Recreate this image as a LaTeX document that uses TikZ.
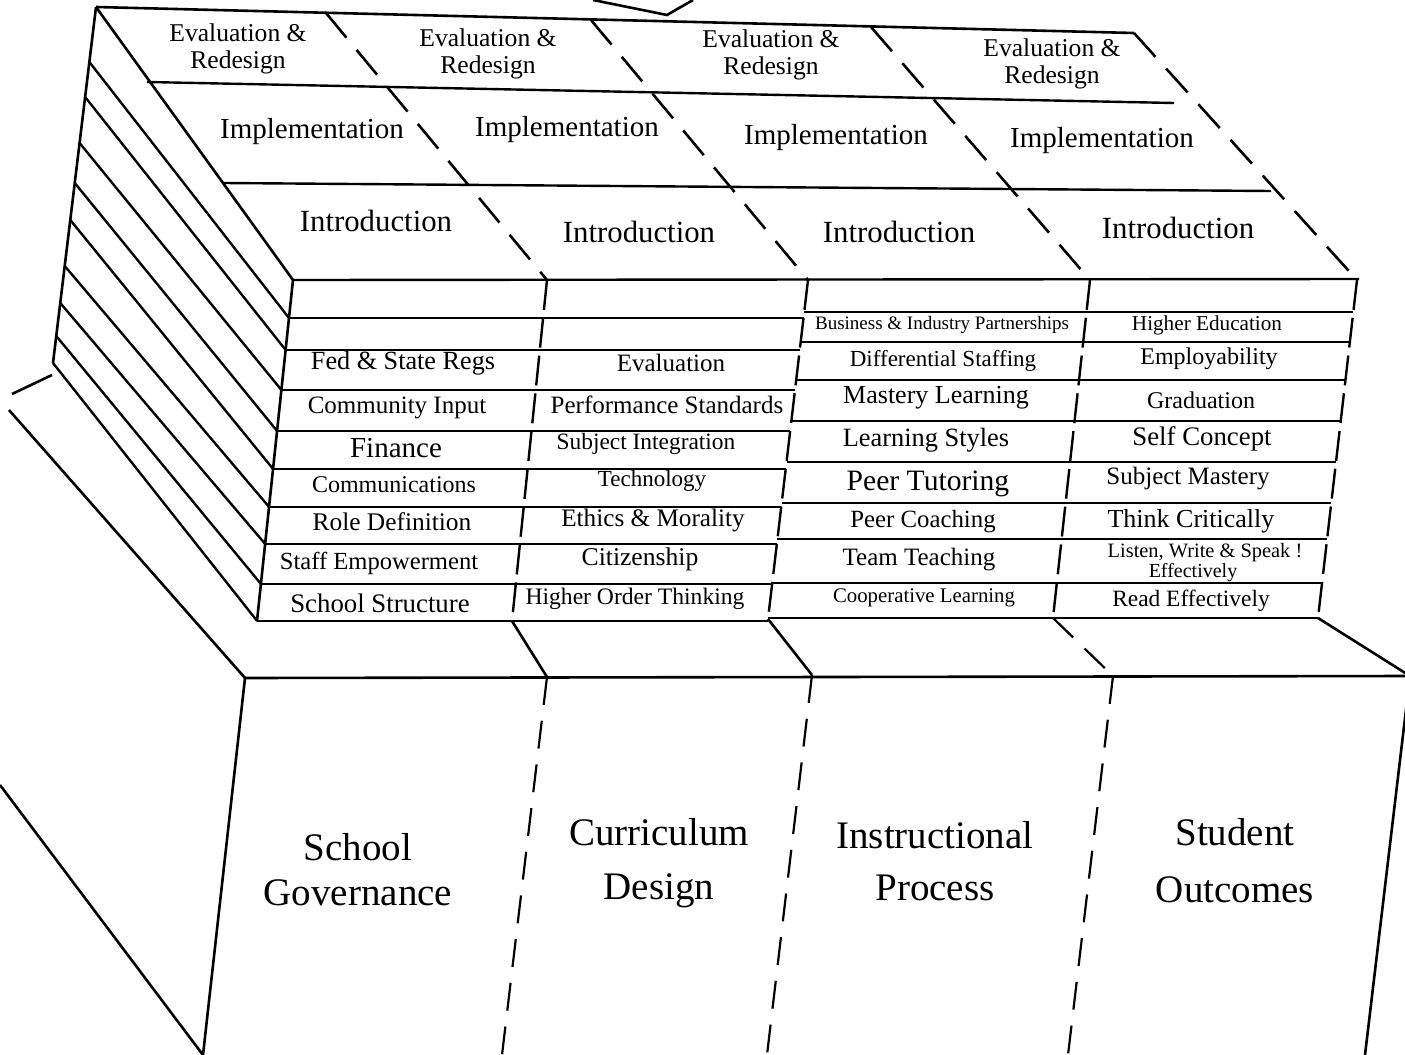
\documentclass[tikz,border=0pt]{standalone}
\usepackage{fontspec}
\setmainfont{Liberation Serif}
\tikzset{
  edge/.style={line width=1.3pt},
  row/.style={line width=1.2pt},
  slabdash/.style={line width=1.3pt, dash pattern=on 16pt off 8pt},
  colsep/.style={line width=1.2pt, dash pattern=on 15pt off 4pt},
  facedash/.style={line width=1.1pt, dash pattern=on 14pt off 8pt},
  cell/.style={inner sep=0pt, font=\fontsize{#1}{#1}\selectfont},
  cell/.default=12.5,
  head/.style={inner sep=0pt, align=center, font=\fontsize{12.8}{13.5}\selectfont},
  face/.style={inner sep=0pt, align=center, font=\fontsize{19.5}{#1}\selectfont}
}
\begin{document}
\begin{tikzpicture}[x=0.5pt, y=-0.5pt]
  \useasboundingbox (0,0) rectangle (1405,1055);
  \clip (0,0) rectangle (1405,1055);

  \coordinate (tl) at (96,7);
  \coordinate (tr) at (1134,33);
  \coordinate (wl) at (53,363);
  \coordinate (lt) at (293,280);
  \coordinate (lb) at (257,621);
  \coordinate (rt) at (1357,280);
  \coordinate (rb) at (1318,618);
  \coordinate (s1t) at (547,280);
  \coordinate (s1b) at (512,621);
  \coordinate (s2t) at (808,280);
  \coordinate (s2b) at (768,619);
  \coordinate (s3t) at (1090,280);
  \coordinate (s3b) at (1053,618);
  \coordinate (f0) at (245,678);
  \coordinate (f1) at (547,677);
  \coordinate (f2) at (812,675);
  \coordinate (f3) at (1113,676);
  \coordinate (f4) at (1410,676);

  \draw[edge] (593,0) -- (667,15) -- (693,0);

  \draw[edge] (tl) -- (tr);
  \draw[edge] (tl) -- (lt);
  \draw[edge] (tl) -- (wl);
  \draw[row] (147,82) -- (1174,103);
  \draw[row] (224,183) -- (1271,191);
  \draw[row] (lt) -- (1359,279);
  \draw[slabdash] (326,13) -- (s1t);
  \draw[slabdash] (591,20) -- (s2t);
  \draw[slabdash] (871,27) -- (s3t);
  \draw[slabdash] (tr) -- (rt);

  \draw[edge] (lt) -- (lb);
  \draw[colsep] (s1t) -- (s1b);
  \draw[colsep] (s2t) -- (s2b);
  \draw[colsep] (s3t) -- (s3b);
  \draw[colsep] (rt) -- (rb);

  \foreach \y in {318,350,390,431,469,507,544,584,621}
    \draw[row] ({293-36*(\y-280)/342},\y) -- ({808-40*(\y-280)/339},\y);
  \foreach \y in {312,342,380,421,462,503,539,583,618}
    \draw[row] ({808-40*(\y-280)/339},\y) -- ({1357-39*(\y-280)/338},\y);

  \foreach \ys/\y in {62/318,97/350,143/390,183/431,220/469,266/507,303/544,336/584,363/621}
    \draw[row] ({96-43*(\ys-7)/356},\ys) -- ({293-36*(\y-280)/342},\y);

  \draw[edge] (12,394) -- (52,375);
  \draw[edge] (9,410) -- (f0);
  \draw[edge] (0,785) -- (203,1055);
  \draw[edge] (f0) -- (203,1055);
  \draw[edge] (f0) -- (f4);
  \draw[edge] (s1b) -- (f1);
  \draw[edge] (s2b) -- (f2);
  \draw[facedash] (s3b) -- (f3);
  \draw[edge] (rb) -- (f4);
  \draw[facedash] (f1) -- (502,1055);
  \draw[facedash] (f2) -- (767,1055);
  \draw[facedash] (f3) -- (1068,1055);
  \draw[edge] (f4) -- (1365,1055);

  \foreach \x/\y [count=\i] in {238/49,488/54,771/55,1052/64}
    \node[head] (eval\i) at (\x,\y) {Evaluation \&\\Redesign};
  \foreach \x/\y [count=\i] in {312/132,567/130,836/138,1102/141}
    \node[cell=14.5] (impl\i) at (\x,\y) {Implementation};
  \foreach \x/\y [count=\i] in {376/221,639/232,899/232,1178/228}
    \node[cell=15.4] (intro\i) at (\x,\y) {Introduction};

  \foreach \x/\y/\s/\t [count=\i] in {
      403/363/13.1/Fed \& State Regs, 397/408/12.5/Community Input,
      396/448/14.5/Finance, 394/485/12/Communications,
      392/522/12.7/Role Definition, 379/563/12.3/Staff Empowerment,
      380/603/13.4/School Structure}
    \node[cell=\s] (gov\i) at (\x,\y) {\t};
  \foreach \x/\y/\s/\t [count=\i] in {
      671/363/12.5/Evaluation, 667/405/12.5/Performance Standards,
      646/444/11.7/Subject Integration, 652/481/11.5/Technology,
      653/520/12.6/Ethics \& Morality, 640/559/12.8/Citizenship,
      635/599/11.8/Higher Order Thinking}
    \node[cell=\s] (cur\i) at (\x,\y) {\t};
  \foreach \x/\y/\s/\t [count=\i] in {
      942/325/9.5/Business \& Industry Partnerships, 943/361/11.5/Differential Staffing,
      936/398/13/Mastery Learning, 926/440/13.2/Learning Styles,
      928/484/14.8/Peer Tutoring, 923/522/12.4/Peer Coaching,
      919/560/12.5/Team Teaching, 924/598/10.4/Cooperative Learning}
    \node[cell=\s] (ins\i) at (\x,\y) {\t};
  \foreach \x/\y/\s/\t [count=\i] in {
      1207/325/10.6/Higher Education, 1209/359/12/Employability,
      1201/400/12/Graduation, 1202/439/13.4/Self Concept,
      1188/479/12.5/Subject Mastery, 1191/521/13/Think Critically,
      1205/553/10.2/{Listen, Write \& Speak !}, 1191/601/11.7/Read Effectively}
    \node[cell=\s] (out\i) at (\x,\y) {\t};
  \node[cell=10] (out9) at (1193,573) {Effectively};

  \node[face=22.5] (gov) at (358,870) {School\\Governance};
  \node[face=27] (cur) at (659,863) {Curriculum\\Design};
  \node[face=26] (ins) at (935,861) {Instructional\\Process};
  \node[face=28.5] (out) at (1235,861) {Student\\Outcomes};
\end{tikzpicture}
\end{document}
